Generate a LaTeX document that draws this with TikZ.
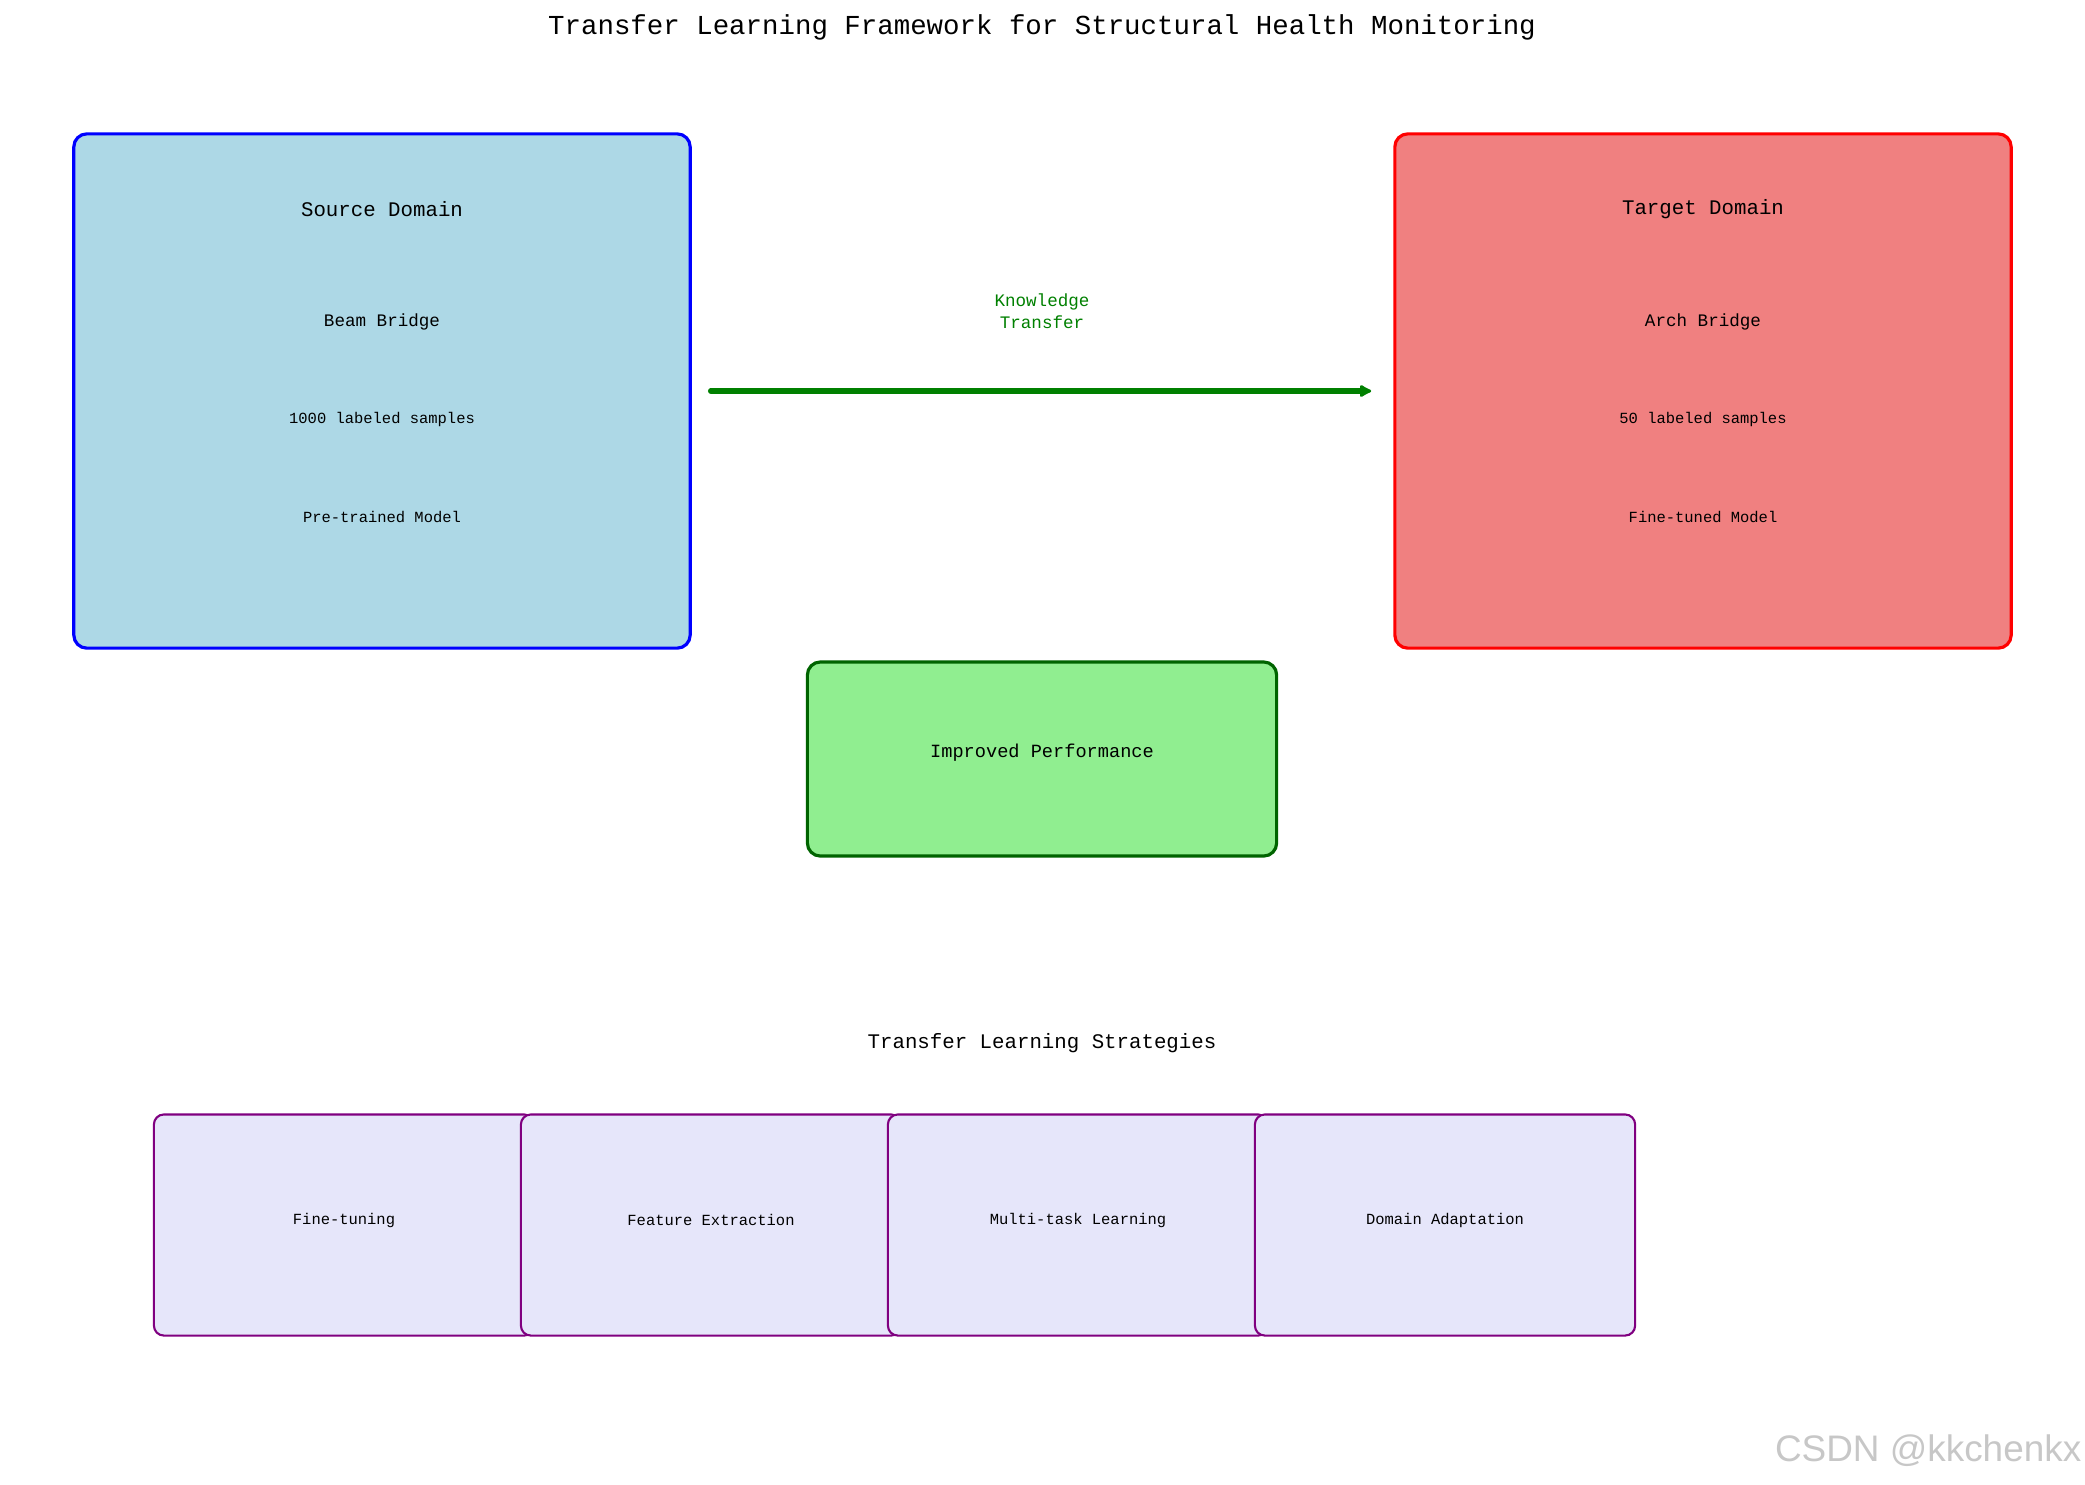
\documentclass[tikz,border=0pt]{standalone}
\usepackage{fontspec}
\setmainfont{Liberation Mono}
\newfontfamily\wmfont{Liberation Sans}
\usetikzlibrary{positioning,arrows.meta}
\definecolor{srcfill}{RGB}{173,216,230}
\definecolor{tgtfill}{RGB}{240,128,128}
\definecolor{perffill}{RGB}{144,238,144}
\definecolor{perfline}{RGB}{0,100,0}
\definecolor{stratfill}{RGB}{230,230,250}
\definecolor{stratline}{RGB}{128,0,128}
\definecolor{arrowgreen}{RGB}{0,128,0}

\begin{document}
\begin{tikzpicture}[
  x=0.01cm, y=-0.01cm,
  every node/.style={inner sep=0pt},
  domainbox/.style={draw, rounded corners=0.13cm, line width=0.9pt, minimum width=6.16cm, minimum height=5.14cm},
  stratbox/.style={draw=stratline, fill=stratfill, rounded corners=0.1cm, line width=0.6pt, minimum width=3.8cm, minimum height=2.21cm},
  titletext/.style={font=\fontsize{7.8pt}{9pt}\selectfont},
  headtext/.style={font=\fontsize{5.9pt}{7pt}\selectfont},
  perftextstyle/.style={font=\fontsize{5.3pt}{6.3pt}\selectfont},
  bodytext/.style={font=\fontsize{5pt}{6.2pt}\selectfont},
  smalltext/.style={font=\fontsize{4.4pt}{5.4pt}\selectfont}
]
  \useasboundingbox (0,0) rectangle (2085,1484);
  \node[titletext] (title) at (1042,27) {Transfer Learning Framework for Structural Health Monitoring};

  % domains
  \node[domainbox, draw=blue, fill=srcfill] (src) at (382,391) {};
  \node[headtext] (srcname) at (382,209) {Source Domain};
  \node[bodytext] (srcbridge) at (382,322) {Beam Bridge};
  \node[smalltext] (srcdata) at (382,419) {1000 labeled samples};
  \node[smalltext] (srcmodel) at (382,517) {Pre-trained Model};

  \node[domainbox, draw=red, fill=tgtfill] (tgt) at (1703,391) {};
  \node[headtext] (tgtname) at (1703,209) {Target Domain};
  \node[bodytext] (tgtbridge) at (1703,322) {Arch Bridge};
  \node[smalltext] (tgtdata) at (1703,419) {50 labeled samples};
  \node[smalltext] (tgtmodel) at (1703,517) {Fine-tuned Model};

  \draw[-{Latex[round, length=0.14cm, width=0.15cm]}, arrowgreen, line width=1.6pt, line cap=round] ([xshift=0.19cm]src.east) -- ([xshift=-0.22cm]tgt.west);
  \node[bodytext, text=arrowgreen, align=center] (transfer) at (1042,311) {Knowledge\\Transfer};

  % result
  \node[draw=perfline, fill=perffill, rounded corners=0.13cm, line width=0.9pt, minimum width=4.69cm, minimum height=1.94cm] (perf) at (1042,759) {};
  \node[perftextstyle] (perftext) at (1042,753) {Improved Performance};

  % strategies
  \node[headtext] (strattitle) at (1042,1043) {Transfer Learning Strategies};
  \foreach \name [count=\i from 0] in {Fine-tuning, Feature Extraction, Multi-task Learning, Domain Adaptation} {
    \node[stratbox] (strat\i) at (344+367*\i,1225) {};
    \node[smalltext] (stratname\i) at (344+367*\i,1220) {\name};
  }

  \node[anchor=east, text=black!22, font=\wmfont\fontsize{10.5pt}{12pt}\selectfont] (mark) at (2082,1451) {CSDN @kkchenkx};
\end{tikzpicture}
\end{document}
